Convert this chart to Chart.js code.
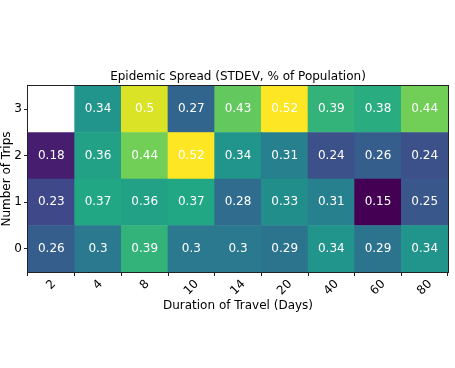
<!DOCTYPE html>
<html>
<head>
<meta charset="utf-8">
<script src="https://cdn.jsdelivr.net/npm/chart.js@4"></script>
<style>
  html, body { margin: 0; padding: 0; background: #fff; }
  #wrap { width: 455px; height: 368px; }
</style>
</head>
<body>
<div id="wrap"><canvas id="chart"></canvas></div>
<script>
const durations = ['2', '4', '8', '10', '14', '20', '40', '60', '80'];
const tripCounts = [0, 1, 2, 3];
const trips0 = [0.26, 0.3, 0.39, 0.3, 0.3, 0.29, 0.34, 0.29, 0.34];
const trips1 = [0.23, 0.37, 0.36, 0.37, 0.28, 0.33, 0.31, 0.15, 0.25];
const trips2 = [0.18, 0.36, 0.44, 0.52, 0.34, 0.31, 0.24, 0.26, 0.24];
const trips3 = [null, 0.34, 0.5, 0.27, 0.43, 0.52, 0.39, 0.38, 0.44];
const rows = [trips0, trips1, trips2, trips3];
const chartTitle = 'Epidemic Spread (STDEV, % of Population)';

const FONT = 'DejaVu Sans';

// viridis, sampled every 0.1
const viridis = [
    [68, 1, 84], [72, 36, 117], [65, 68, 135], [53, 95, 141], [42, 120, 142],
    [33, 145, 140], [34, 168, 132], [68, 191, 112], [122, 209, 81], [189, 223, 38], [253, 231, 37]
];
const vmin = 0.15, vmax = 0.52;

function colorFor(v) {
    if (v === null) return 'rgba(0,0,0,0)';
    let t = (v - vmin) / (vmax - vmin);
    t = Math.max(0, Math.min(1, t)) * 10;
    const i = Math.min(9, Math.floor(t));
    const f = t - i;
    const a = viridis[i], b = viridis[i + 1];
    const c = a.map((x, k) => Math.round(x + (b[k] - x) * f));
    return `rgb(${c[0]},${c[1]},${c[2]})`;
}

const datasets = tripCounts.map((r, ri) => ({
    label: 'trips ' + r,
    data: rows[ri].map(v => v === null ? null : [r - 0.5, r + 0.5]),
    values: rows[ri],
    backgroundColor: rows[ri].map(colorFor),
    borderWidth: 0,
    grouped: false,
    barPercentage: 1,
    categoryPercentage: 1
}));

// cell text, frame, title and rotated x tick labels
const heatmapExtras = {
    id: 'heatmapExtras',
    afterDatasetsDraw(chart) {
        const ctx = chart.ctx;
        const xs = chart.scales.x, ys = chart.scales.y;
        const a = chart.chartArea;
        ctx.save();
        ctx.font = '12px ' + FONT;
        ctx.fillStyle = '#fff';
        ctx.textAlign = 'center';
        ctx.textBaseline = 'middle';
        chart.data.datasets.forEach((ds, di) => {
            ds.values.forEach((v, i) => {
                if (v === null) return;
                ctx.fillText(String(v), xs.getPixelForValue(i), ys.getPixelForValue(tripCounts[di]));
            });
        });
        ctx.strokeStyle = '#222';
        ctx.lineWidth = 1;
        ctx.strokeRect(Math.round(a.left) - 0.5, Math.round(a.top) - 0.5,
            Math.round(a.right - a.left) + 1, Math.round(a.bottom - a.top) + 1);

        ctx.fillStyle = '#000';
        ctx.fillText(chartTitle, (a.left + a.right) / 2, a.top - 9.5);

        const s = Math.SQRT1_2;
        durations.forEach((lab, i) => {
            const w = ctx.measureText(lab).width;
            const bh = (w + 9) * s;
            const x = xs.getPixelForValue(i);
            const y = a.bottom + 7 + bh / 2;
            ctx.save();
            ctx.translate(x, y);
            ctx.rotate(-Math.PI / 4);
            ctx.fillText(lab, 0, 0);
            ctx.restore();
        });
        ctx.restore();
    }
};

new Chart(document.getElementById('chart'), {
    type: 'bar',
    data: { labels: durations, datasets: datasets },
    options: {
        responsive: true,
        maintainAspectRatio: false,
        animation: false,
        layout: { padding: { left: 0, right: 7, top: 86, bottom: 55 } },
        plugins: {
            legend: { display: false },
            tooltip: { enabled: false },
            title: { display: false }
        },
        scales: {
            x: {
                type: 'category',
                offset: true,
                grid: { display: true, drawOnChartArea: false, drawTicks: true, tickLength: 4, color: '#222' },
                border: { display: false },
                ticks: { color: 'rgba(0,0,0,0)', maxRotation: 0, minRotation: 0, autoSkip: false,
                    font: { family: FONT, size: 12 } },
                title: {
                    display: true,
                    text: 'Duration of Travel (Days)',
                    color: '#000',
                    font: { family: FONT, size: 12, lineHeight: 1.2 },
                    padding: 0
                },
                afterFit(s) { s.height = 41; }
            },
            y: {
                type: 'linear',
                min: -0.5,
                max: 3.5,
                afterBuildTicks(s) { s.ticks = tripCounts.map(v => ({ value: v })); },
                grid: { display: true, drawOnChartArea: false, drawTicks: true, tickLength: 4, color: '#222' },
                border: { display: false },
                ticks: { color: '#000', padding: 2, font: { family: FONT, size: 12 } },
                title: {
                    display: true,
                    text: 'Number of Trips',
                    color: '#000',
                    font: { family: FONT, size: 12, lineHeight: 1.2 },
                    padding: 0
                },
                afterFit(s) { s.width = 28; }
            }
        }
    },
    plugins: [heatmapExtras]
});
</script>
</body>
</html>
